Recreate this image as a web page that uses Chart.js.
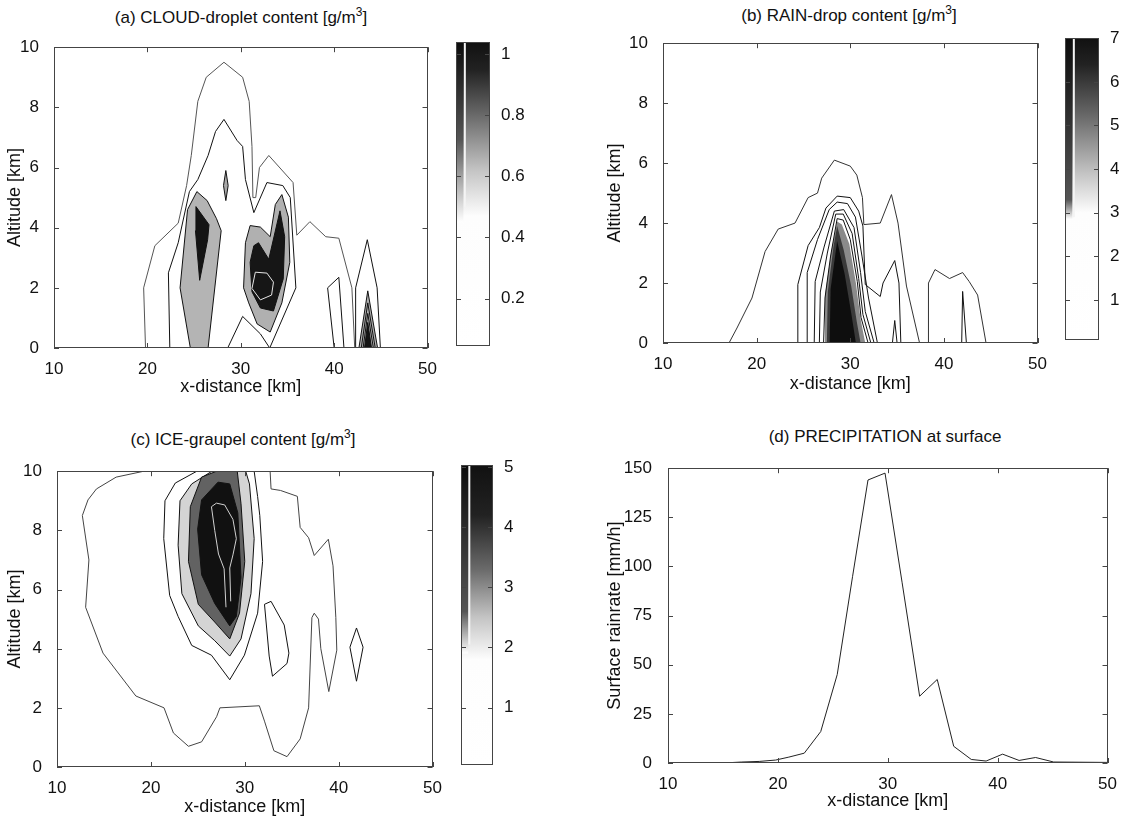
<!DOCTYPE html>
<html>
<head>
<meta charset="utf-8">
<script src="https://cdn.jsdelivr.net/npm/chart.js@4/dist/chart.umd.min.js"></script>
<style>
body{margin:0;background:#fff;font-family:"Liberation Sans",Arial,Helvetica,sans-serif;color:#111}
#page{position:relative;width:1127px;height:820px;overflow:hidden}
canvas{position:absolute}
.ttl{position:absolute;transform:translateX(-50%);white-space:nowrap;font-size:17px;line-height:18px}
.ttl sup{font-size:12px;line-height:0}
</style>
</head>
<body>
<div id="page">
<div class="ttl" style="left:241px;top:9px">(a) CLOUD-droplet content [g/m<sup>3</sup>]</div>
<div class="ttl" style="left:849px;top:7px">(b) RAIN-drop content [g/m<sup>3</sup>]</div>
<div class="ttl" style="left:243px;top:431px">(c) ICE-graupel content [g/m<sup>3</sup>]</div>
<div class="ttl" style="left:885px;top:428px">(d) PRECIPITATION at surface</div>

<canvas id="cloud" width="440" height="370" style="left:0;top:30px"></canvas>
<canvas id="cloudBar" width="90" height="330" style="left:450px;top:29px"></canvas>
<canvas id="rain" width="450" height="371" style="left:600px;top:26px"></canvas>
<canvas id="rainBar" width="68" height="328" style="left:1059px;top:25px"></canvas>
<canvas id="ice" width="445" height="366" style="left:0;top:454px"></canvas>
<canvas id="iceBar" width="85" height="326" style="left:455px;top:452px"></canvas>
<canvas id="precip" width="520" height="364" style="left:600px;top:450px"></canvas>
</div>

<script>
// ---- axis ranges / ticks
const distanceRange=[10,50]
const altitudeRange=[0,10]
const rainrateRange=[0,150]

// ---- colour bar ranges and tick labels
const cloudScale=[0.045,1.04]
const cloudTicks=[0.2,0.4,0.6,0.8,1]
const rainScale=[0.09,7]
const rainTicks=[1,2,3,4,5,6,7]
const iceScale=[0.05,5.03]
const iceTicks=[1,2,3,4,5]

// ---- (a) cloud droplet contours [x km, altitude km]
const cloudOuter=[[19.8,0],[19.6,2.0],[20.8,3.4],[23.3,4.15],[24.2,5.4],[24.7,6.4],[25.4,8.2],[26.3,9.0],[28.2,9.5],[30.2,9.0],[30.9,8.2],[31.2,6.7],[31.3,5.0],[31.6,5.0],[32.0,6.0],[33.0,6.4],[35.6,5.5],[36.0,3.75],[37.4,4.2],[39.1,3.7],[40.5,3.65],[41.9,2.0],[42.2,0]]
const cloudMid=[[22.4,0],[22.25,2.5],[23.3,3.5],[24.5,5.2],[25.4,5.6],[26.5,6.4],[27.3,7.2],[28.2,7.6],[29.6,6.9],[30.2,6.7],[30.5,5.6],[31.4,4.5],[32.8,5.5],[34.5,5.4],[35.3,5.0],[35.9,2.0],[33.1,0]]
const cloudMidLow=[[28.6,0],[30.2,1.05],[32.1,0.47],[33.1,0]]
const cloudLeftLobe=[[24.6,0],[23.5,2.0],[24.3,4.6],[25.3,5.2],[26.4,4.9],[27.4,4.3],[27.9,3.9],[26.5,0]]
const cloudLeftCore=[[25.2,4.7],[26.6,4.1],[26.45,3.6],[25.6,2.25],[25.15,3.9]]
const cloudSpot=[[28.4,5.9],[28.65,5.4],[28.4,4.9],[28.15,5.4]]
const cloudRightLobe=[[30.3,2.0],[30.5,3.5],[31.0,4.07],[32.1,4.02],[33.15,3.7],[33.7,4.77],[34.4,5.1],[35.1,4.35],[35.25,2.85],[34.4,1.5],[33.15,0.53],[31.75,0.8],[30.85,1.5]]
const cloudRightCore=[[31.0,2.85],[31.4,3.4],[31.9,3.5],[33.0,2.95],[34.2,4.56],[34.7,3.7],[34.55,2.3],[33.5,1.23],[32.1,1.33],[31.2,1.87]]
const cloudRightPeak=[[31.56,2.52],[32.8,2.49],[33.5,2.19],[33.3,1.76],[32.1,1.6],[31.2,1.98],[31.56,2.52]]
const cloudRidge40=[[40.0,0],[39.3,2.0],[40.5,2.35],[41.05,0]]
const cloudSpikeOuter=[[42.3,0],[42.3,2.0],[43.55,3.6],[44.6,2.0],[44.95,0]]
const cloudSpikeInner=[[42.65,0],[43.6,1.9],[44.65,0]]
const cloudSpikeMid=[[42.9,0],[43.6,1.5],[44.4,0]]
const cloudSpikeLow=[[43.1,0],[43.6,1.15],[44.2,0]]
const cloudSpikeCore=[[43.25,0],[43.6,0.85],[44.0,0]]

// ---- (b) rain drop contours
const rainOuter=[[17.05,0],[17.9,0.5],[19.5,1.5],[20.9,3.05],[22.3,3.8],[24.1,4.0],[25.5,4.85],[26.5,5.0],[26.95,5.5],[28.3,6.1],[30.0,5.9],[30.7,5.6],[31.3,4.85],[31.45,3.95],[33.2,4.0],[34.4,4.95],[35.1,4.0],[36.0,1.9],[37.4,0]]
const rainEast=[[38.35,0],[38.35,2.0],[39.05,2.45],[40.6,2.15],[42.0,2.35],[42.7,2.05],[43.6,1.6],[44.5,0]]
const rainL2=[[24.4,0],[24.4,1.95],[25.5,3.25],[26.7,3.85],[27.4,4.5],[28.6,4.9],[30.0,4.85],[30.9,4.4],[31.35,3.9],[31.6,1.95],[33.2,1.55],[33.5,2.0],[34.75,2.75],[35.2,2.0],[35.4,0]]
const rainL3=[[25.4,0],[25.4,2.35],[26.5,3.45],[27.75,4.45],[28.6,4.7],[29.7,4.65],[30.55,4.2],[31.25,2.9],[31.95,1.5],[32.9,0]]
const rainL4=[[26.15,0],[26.25,2.05],[27.2,3.2],[28.3,4.4],[29.3,4.45],[30.4,3.85],[31.1,2.35],[31.6,1.05],[32.55,0]]
const rainL5=[[26.7,0],[26.8,1.7],[27.55,3.0],[28.45,4.3],[29.25,4.3],[30.2,3.65],[30.9,2.15],[31.35,0.95],[32.2,0]]
const rainL6=[[27.15,0],[27.3,1.5],[27.9,2.9],[28.6,4.15],[29.25,4.1],[30.0,3.45],[30.75,2.05],[31.15,0.85],[31.9,0]]
const rainShadeA=[[27.2,0],[27.3,1.6],[28.0,3.1],[28.6,4.05],[29.1,3.95],[29.9,3.3],[30.6,2.0],[31.1,0.8],[31.6,0]]
const rainShadeB=[[27.5,0],[27.6,1.7],[28.2,3.2],[28.6,3.9],[29.3,3.1],[30.1,1.9],[30.7,0.7],[31.1,0]]
const rainCore=[[27.8,0],[27.9,1.8],[28.6,3.4],[29.4,2.3],[30.1,1.0],[30.6,0]]
const rainSpike34=[[34.5,0],[34.75,0.75],[35.0,0]]
const rainSpike42=[[41.9,0],[42.0,1.72],[42.4,0]]

// ---- (c) ice graupel contours
const iceOuter=[[19.26,10],[16.3,9.8],[14.2,9.4],[13.3,9.03],[12.7,8.5],[13.4,7.0],[13.05,5.4],[14.9,3.85],[18.4,2.4],[21.4,2.0],[22.4,1.15],[24.0,0.7],[25.4,0.85],[27.0,1.7],[27.35,2.0],[31.55,2.07],[32.1,1.55],[33.1,0.55],[34.5,0.35],[35.9,0.95],[36.8,2.0],[37.15,5.05],[37.4,5.2],[37.85,5.0],[38.1,4.0],[38.95,2.55],[39.8,3.95],[39.7,5.05],[39.4,6.8],[38.9,7.7],[37.4,7.15],[36.8,7.75],[35.9,8.1],[35.6,9.15],[33.8,9.35],[32.8,9.4],[32.7,10]]
const iceL2=[[24.9,10],[22.6,9.6],[21.5,9.0],[21.37,7.72],[22.0,5.8],[22.9,5.09],[24.35,4.11],[26.45,3.78],[28.4,2.95],[29.96,3.78],[31.37,5.2],[31.9,6.95],[31.6,8.5],[31.37,9.14],[31.0,10]]
const iceL3=[[26.5,10],[24.35,9.57],[23.1,9.0],[22.9,7.5],[23.3,5.86],[25.05,4.77],[26.8,4.27],[28.4,3.75],[29.6,4.33],[30.66,5.86],[31.0,7.72],[30.5,9.57],[30.1,10]]
const iceMid=[[27.0,10],[25.4,9.8],[24.2,8.8],[24.0,6.95],[25.05,5.5],[26.8,4.9],[28.4,4.33],[29.44,5.2],[30.0,6.95],[29.6,8.9],[29.2,10]]
const iceCore=[[27.15,9.63],[25.4,9.03],[24.98,8.04],[25.4,6.5],[26.8,5.53],[28.4,4.77],[29.1,5.09],[29.6,6.4],[29.26,8.59],[28.4,9.57]]
const iceStreakA=[[26.45,8.8],[26.98,8.92],[27.86,8.86],[28.74,8.37],[29.1,7.72],[28.74,7.17],[28.4,6.73],[28.5,5.6]]
const iceStreakB=[[26.45,8.8],[26.8,8.0],[27.2,7.2],[27.8,6.7],[28.0,5.4]]
const iceOval=[[32.1,5.5],[32.8,5.6],[34.2,4.8],[34.7,3.85],[34.5,3.5],[32.95,3.07],[32.6,3.75]]
const iceDiamond=[[41.9,4.7],[42.6,4.05],[41.9,2.9],[41.2,4.05]]

// ---- (d) surface precipitation
const precipX=[10,15.0,16.7,18.3,19.8,21.0,22.4,23.9,25.4,26.8,28.2,29.75,31.3,32.9,34.5,36.0,37.6,38.95,40.45,41.95,43.45,45.1,50]
const precipY=[0,0,0.5,0.8,1.5,3.0,5.0,16,45,95,144,147.5,92,34,42.5,8.5,1.8,1.0,4.5,1.3,2.8,0.5,0.3]


Chart.defaults.font.family='"Liberation Sans", Arial, Helvetica, sans-serif'
Chart.defaults.font.size=17
Chart.defaults.color='#111'
Chart.defaults.animation=false
Chart.defaults.events=[]
Chart.defaults.plugins.legend.display=false
Chart.defaults.plugins.tooltip.enabled=false
Chart.defaults.elements.point.radius=0

const titleFont={size:18}


// box round the plot area with matlab style inner ticks
const boxPlugin={
id:"box",
afterDatasetsDraw(chart){
const ctx=chart.ctx
const a=chart.chartArea
ctx.save()
ctx.strokeStyle="#444"
ctx.lineWidth=1
ctx.strokeRect(Math.round(a.left)+0.5,Math.round(a.top)+0.5,Math.round(a.width)-1,Math.round(a.height)-1)
ctx.beginPath()
Object.values(chart.scales).forEach(s=>{
if(s.options.display===false) return
s.ticks.forEach(t=>{
const p=Math.round(s.getPixelForValue(t.value))+0.5
if(s.axis==="x"){
ctx.moveTo(p,a.bottom);ctx.lineTo(p,a.bottom-5)
ctx.moveTo(p,a.top);ctx.lineTo(p,a.top+5)
}else{
ctx.moveTo(a.left,p);ctx.lineTo(a.left+5,p)
ctx.moveTo(a.right,p);ctx.lineTo(a.right-5,p)
}
})
})
ctx.stroke()
ctx.restore()
}
}


function pts(arr){
return arr.map(p=>({x:p[0],y:p[1]}))
}

function line(arr,color,order,width){
return {data:pts(arr),showLine:true,borderColor:color,borderWidth:width||1,fill:false,order:order||0}
}

function ring(arr,color,order){
return line(arr.concat([arr[0]]),color,order)
}

function area(arr,fillColor,edge,order){
return {data:pts(arr.concat([arr[0]])),showLine:true,borderColor:edge||"rgba(0,0,0,0)",borderWidth:1,backgroundColor:fillColor,fill:"shape",order:order}
}


function contourChart(id,datasets,yWidth,xHeight,padRight){
return new Chart(document.getElementById(id),{
type:"scatter",
data:{datasets:datasets},
options:{
responsive:false,
devicePixelRatio:1,
layout:{padding:{top:8,right:padRight,left:0,bottom:0}},
scales:{
x:{
type:"linear",min:distanceRange[0],max:distanceRange[1],
ticks:{stepSize:10,padding:3},
grid:{display:false},border:{display:false},
title:{display:true,text:"x-distance [km]",font:titleFont,padding:{top:2,bottom:2}},
afterFit(s){s.height=xHeight}
},
y:{
type:"linear",min:altitudeRange[0],max:altitudeRange[1],
ticks:{stepSize:2,padding:7},
grid:{display:false},border:{display:false},
title:{display:true,text:"Altitude [km]",font:titleFont,padding:{top:4,bottom:4}},
afterFit(s){s.width=yWidth}
}
}
},
plugins:[boxPlugin]
})
}


// vertical gradient along the colour bar, stops given as [value, colour]
function barShade(stops){
return function(c){
const a=c.chart.chartArea
const y=c.chart.scales.y
if(!a||!y) return "#999"
const g=c.chart.ctx.createLinearGradient(0,a.bottom,0,a.top)
stops.forEach(s=>{
const f=Math.min(1,Math.max(0,(s[0]-y.min)/(y.max-y.min)))
g.addColorStop(f,s[1])
})
return g
}
}

// the colour bar is drawn as wide vertical strokes on a 0..1 x scale
function colourBar(id,range,ticks,axisWidth,barWidth,levels){
const [w0,w1,mid,dark,stripEnd,stripLow,gapLow]=levels
new Chart(document.getElementById(id),{
type:"scatter",
data:{
datasets:[
{
data:[{x:0.5,y:range[0]},{x:0.5,y:range[1]}],
showLine:true,
borderWidth:barWidth,
borderCapStyle:"butt",
order:2,
borderColor:barShade([[range[0],"#ffffff"],[w0,"#fdfdfd"],[w1,"#c4c4c4"],[mid,"#6a6a6a"],[dark,"#222"],[range[1],"#111"]])
},
{
data:[{x:0.115,y:stripLow},{x:0.115,y:range[1]}],
showLine:true,
borderWidth:7,
borderCapStyle:"butt",
order:1,
borderColor:barShade([[stripLow,"#ffffff"],[stripEnd,"#555"],[range[1],"#0c0c0c"]])
},
{
data:[{x:0.26,y:gapLow},{x:0.26,y:range[1]}],
showLine:true,
borderWidth:2,
borderCapStyle:"butt",
order:0,
borderColor:"#f4f4f4"
}
]
},
options:{
responsive:false,
devicePixelRatio:1,
layout:{padding:{top:8,left:6,right:0,bottom:13}},
scales:{
x:{type:"linear",min:0,max:1,display:false},
y:{
position:"right",min:range[0],max:range[1],
grid:{display:false},border:{display:false},
ticks:{padding:3,callback:v=>String(v)},
afterBuildTicks(s){s.ticks=ticks.map(v=>({value:v}))},
afterFit(s){s.width=axisWidth}
}
}
},
plugins:[boxPlugin]
})
}


// (a)
contourChart("cloud",[
line(cloudOuter,"#555",0),
line(cloudMid,"#111",0),
line(cloudMidLow,"#111",0),
line(cloudRidge40,"#111",0),
area(cloudLeftLobe,"#b4b4b4","#111",6),
area(cloudLeftCore,"#141414","#111",5),
area(cloudSpot,"#a8a8a8","#111",5),
area(cloudRightLobe,"#b0b0b0","#111",6),
area(cloudRightCore,"#161616","#111",5),
line(cloudRightPeak,"#e6e6e6",1),
line(cloudSpikeOuter,"#111",0),
area(cloudSpikeInner,"#b0b0b0","#111",6),
line(cloudSpikeMid,"#111",0),
line(cloudSpikeLow,"#111",0),
area(cloudSpikeCore,"#141414","#111",5)
],54,52,7)

colourBar("cloudBar",cloudScale,cloudTicks,50,34,[0.47,0.62,0.8,0.95,0.72,0.45,0.5])


// (b)
contourChart("rain",[
line(rainOuter,"#333",0),
line(rainEast,"#333",0),
line(rainL2,"#111",0),
line(rainL3,"#111",0),
line(rainL4,"#111",0),
line(rainL5,"#111",0),
line(rainL6,"#111",0),
area(rainShadeA,"#8a8a8a",null,7),
area(rainShadeB,"#3a3a3a",null,6),
area(rainCore,"#0e0e0e",null,5),
line(rainSpike34,"#111",0),
line(rainSpike42,"#111",0)
],63,54,7)

colourBar("rainBar",rainScale,rainTicks,28,34,[3.0,3.9,5.2,6.4,3.3,2.85,2.9])


// (c)
contourChart("ice",[
line(iceOuter,"#444",0),
line(iceL2,"#111",0),
area(iceL3,"#d4d4d4","#111",8),
area(iceMid,"#626262","#111",7),
area(iceCore,"#111111","#111",6),
line(iceStreakA,"#d0d0d0",1),
line(iceStreakB,"#d0d0d0",1),
ring(iceOval,"#111",0),
ring(iceDiamond,"#111",0)
],57,53,8)

colourBar("iceBar",iceScale,iceTicks,47,32,[1.8,2.5,3.3,4.2,2.6,1.9,2.05])


// (d)
new Chart(document.getElementById("precip"),{
type:"scatter",
data:{
datasets:[{
data:precipX.map((x,i)=>({x:x,y:precipY[i]})),
showLine:true,
borderColor:"#222",
borderWidth:1
}]
},
options:{
responsive:false,
devicePixelRatio:1,
layout:{padding:{top:8,right:9,left:0,bottom:0}},
scales:{
x:{
type:"linear",min:distanceRange[0],max:distanceRange[1],
ticks:{stepSize:10,padding:3},
grid:{display:false},border:{display:false},
title:{display:true,text:"x-distance [km]",font:titleFont,padding:{top:2,bottom:2}},
afterFit(s){s.height=51}
},
y:{
type:"linear",min:rainrateRange[0],max:rainrateRange[1],
ticks:{stepSize:25,padding:8},
grid:{display:false},border:{display:false},
title:{display:true,text:"Surface rainrate [mm/h]",font:titleFont,padding:{top:4,bottom:4}},
afterFit(s){s.width=68}
}
}
},
plugins:[boxPlugin]
})
</script>
</body>
</html>
